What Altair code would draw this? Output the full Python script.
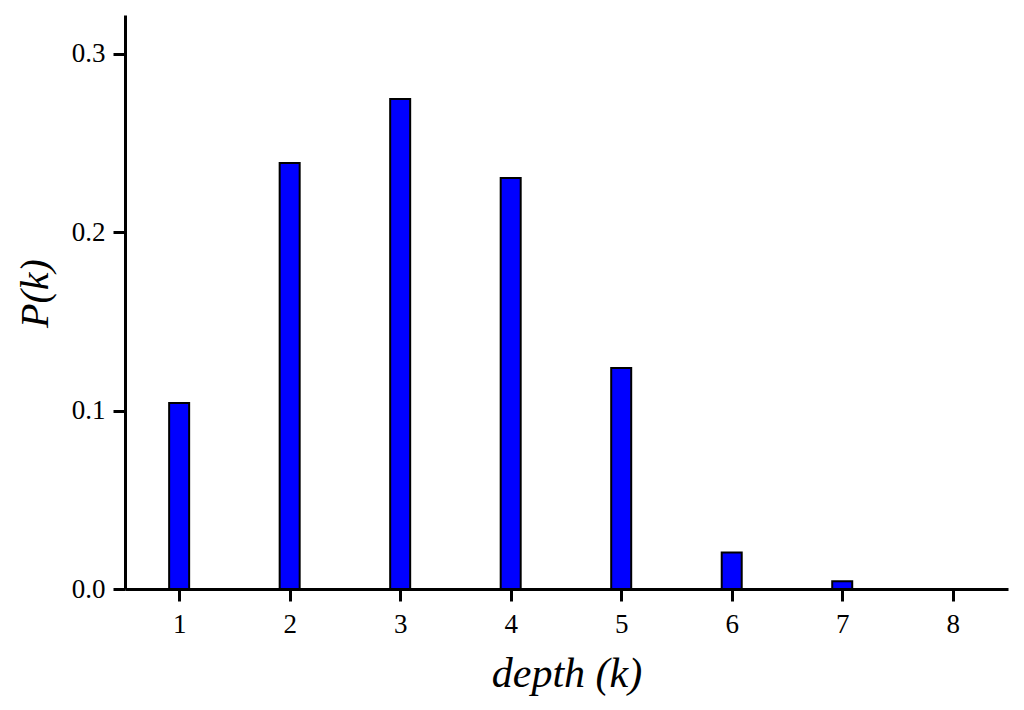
import altair as alt
import pandas as pd

depth = [1, 2, 3, 4, 5, 6, 7, 8]
prob = [0.1042, 0.2387, 0.2745, 0.2303, 0.1238, 0.0205, 0.0043, 0.0]
y_ticks = [0.0, 0.1, 0.2, 0.3]

df = pd.DataFrame({"depth": depth, "P": prob})

font = "Liberation Serif"

chart = alt.Chart(df).mark_bar(
    size=20, color="#0000FF", stroke="black", strokeWidth=2
).encode(
    x=alt.X("depth:Q",
            scale=alt.Scale(domain=[0.51, 8.5], nice=False, zero=False, padding=0),
            axis=alt.Axis(values=depth, format="d", title="depth (k)",
                          grid=False, domainColor="black", domainWidth=3,
                          tickColor="black", tickWidth=3, tickSize=12,
                          labelFont=font, labelFontSize=27, labelColor="black",
                          labelPadding=10,
                          titleFont=font, titleFontSize=42, titleFontStyle="italic",
                          titleFontWeight="normal", titleColor="black", titlePadding=16)),
    y=alt.Y("P:Q",
            scale=alt.Scale(domain=[0, 0.3216], nice=False, padding=0),
            axis=alt.Axis(values=y_ticks, format=".1f", title="P(k)",
                          grid=False, domainColor="black", domainWidth=3,
                          tickColor="black", tickWidth=3, tickSize=12,
                          labelFont=font, labelFontSize=27, labelColor="black",
                          labelPadding=8,
                          titleFont=font, titleFontSize=40, titleFontStyle="italic",
                          titleFontWeight="normal", titleColor="black", titlePadding=16,
                          titleY=278)),
).properties(
    width=883, height=574,
    autosize=alt.AutoSizeParams(type="none"),
    padding={"left": 117, "top": 7, "right": 8, "bottom": 112},
).configure_view(stroke=None)

chart.save("out.html", embed_options={"renderer": "svg", "actions": False})
